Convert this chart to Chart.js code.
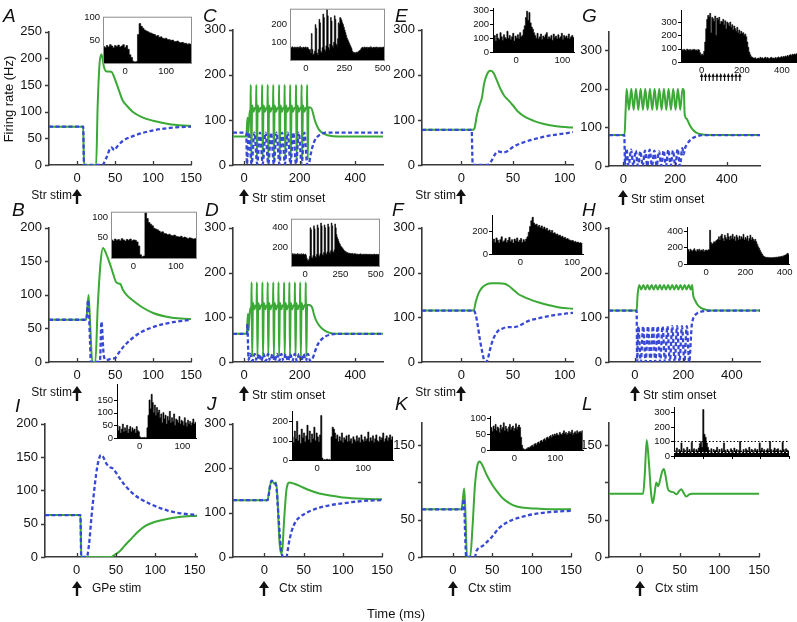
<!DOCTYPE html>
<html><head><meta charset="utf-8">
<script src="https://cdn.jsdelivr.net/npm/chart.js@4.4.0/dist/chart.umd.min.js"></script>
<style>
body{margin:0;background:#fff;width:797px;height:622px;overflow:hidden;position:relative}
canvas{position:absolute}
</style></head><body>
<script>
// ---------- data: model traces as [time ms, rate Hz] ----------
const A_green = [[-37,72],[8,72],[9,0],[25,0],[27,110],[29.5,190],[32,208],[35,186],[38,176],[45,175],[50,160],[55,140],[60,121],[65,112],[73,100],[85,90],[100,83],[120,77],[150,73]];
const A_blue  = [[-37,72],[8,72],[9,0],[33,0],[38,12],[45,33],[49,28],[53,35],[60,45],[75,55],[100,65],[125,70],[150,72]];
const B_green = [[-37,63],[12,63],[15,100],[17,60],[20,0],[24,0],[27,80],[31,150],[34,170],[38,162],[45,140],[52,118],[57,116],[60,108],[65,100],[73,92],[85,82],[100,73],[125,66],[150,64]];
const B_blue  = [[-37,63],[12,63],[14.5,92],[17,30],[18,0],[30,0],[32,60],[35,10],[38,3],[45,5],[50,6],[55,14],[62,24],[70,33],[85,45],[100,52],[115,57],[130,60],[150,63]];
const C_green = [[-40,63],[8,63],[11,95],[13,105],[15,70],[18,100],[21,120],
  [23,125],[24,178],[26,12],[29,132],[34,118],[39,127],[43,125],[44,178],[46,12],[49,132],[54,118],[59,127],
  [64,125],[65,178],[67,12],[70,132],[75,118],[80,127],[84,125],[85,178],[87,12],[90,132],[95,118],[100,127],
  [104,125],[105,178],[107,12],[110,132],[115,118],[120,127],[125,125],[126,178],[128,12],[131,132],[136,118],[141,127],
  [145,125],[146,178],[148,12],[151,132],[156,118],[161,127],[165,125],[166,178],[168,12],[171,132],[176,118],[181,127],
  [186,125],[187,178],[189,12],[192,132],[197,118],[202,127],[206,125],[207,178],[209,12],[212,132],[217,118],[222,127],
  [226,125],[227,178],[229,12],[232,128],[240,127],[245,122],[252,105],[260,90],[270,78],[285,70],[300,66],[340,63],[500,63]];
const C_blue  = [[-40,72],[8,72],[10,2],[17,72],[27,2],[37,72],[47,2],[57,72],[67,2],[77,72],[87,2],[97,72],[107,2],[117,72],[127,2],[137,72],[147,2],[157,72],[167,2],[177,72],[187,2],[197,72],[207,2],[217,72],[227,2],[232,0],[240,25],[250,48],[260,60],[275,68],[300,72],[500,72]];
const D_green = [[-40,63],[10,63],[12,90],[14,108],[16,70],[19,100],[23,120],
  [26,125],[27,178],[29,12],[32,132],[37,118],[42,127],[45,125],[46,178],[48,12],[51,132],[56,118],[61,127],
  [65,125],[66,178],[68,12],[71,132],[76,118],[81,127],[84,125],[85,178],[87,12],[90,132],[95,118],[100,127],
  [104,125],[105,178],[107,12],[110,132],[115,118],[120,127],[123,125],[124,178],[126,12],[129,132],[134,118],[139,127],
  [143,125],[144,178],[146,12],[149,132],[154,118],[159,127],[162,125],[163,178],[165,12],[168,132],[173,118],[178,127],
  [182,125],[183,178],[185,12],[188,132],[193,118],[198,127],[201,125],[202,178],[204,12],[207,132],[212,118],[217,127],
  [221,125],[222,178],[224,12],[227,128],[240,126],[246,120],[252,105],[260,92],[272,80],[290,70],[310,65],[340,63],[500,63]];
const D_blue  = [[-40,63],[10,63],[12,85],[14,40],[16,5],[22,18],[30,2],[38,18],[46,2],[54,18],[62,2],[70,18],[78,2],[86,18],[94,2],[102,18],[110,2],[118,18],[126,2],[134,18],[142,2],[150,18],[158,2],[166,18],[174,2],[182,18],[190,2],[198,18],[206,2],[214,18],[222,2],[230,18],[238,2],[248,10],[256,25],[266,40],[278,50],[292,57],[310,61],[330,63],[500,63]];
const E_green = [[-38,78],[10,78],[12.5,80],[15,110],[17,128],[20,150],[22,180],[25,202],[28,209],[31,205],[34,190],[38,168],[42,152],[45,145],[50,132],[55,118],[62,106],[70,98],[80,91],[92,86],[108,83]];
const E_blue  = [[-38,78],[10,78],[11,0],[25,0],[28,5],[33,25],[36,30],[40,28],[44,30],[50,40],[60,50],[70,57],[85,65],[100,70],[108,73]];
const F_green = [[-38,115],[12,115],[14,135],[17,155],[20,166],[24,173],[30,176],[36,176],[42,175],[46,170],[50,162],[55,152],[60,146],[65,141],[75,133],[85,127],[95,122],[108,119]];
const F_blue  = [[-38,115],[12,115],[14,105],[16,80],[18,50],[20,25],[22,5],[24,0],[26,10],[28,30],[31,52],[35,68],[40,75],[45,78],[50,78],[55,80],[60,86],[65,92],[75,98],[90,105],[108,110]];
const G_green = [[-55,80],[5,80],[9,140],[13,200],[22,145],[31,200],[40,145],[49,200],[58,145],[67,200],[76,145],[85,200],[94,145],[103,200],[112,145],[121,200],[130,145],[139,200],[148,145],[157,200],[166,145],[175,200],[184,145],[193,200],[202,145],[211,200],[220,145],[229,200],[234,195],[237,135],[245,122],[255,108],[266,96],[280,87],[300,82],[330,80],[528,80]];
const G_blue  = [[-55,80],[4,80],[7,0],[12,45],[21,0],[30,42],[39,0],[48,40],[57,0],[66,38],[75,0],[84,40],[93,0],[102,42],[111,0],[120,40],[129,0],[138,38],[147,0],[156,40],[165,0],[174,42],[183,0],[192,40],[201,0],[210,44],[219,0],[228,46],[233,30],[238,45],[248,58],[260,68],[280,76],[310,80],[528,80]];
const H_green = [[-107,115],[7,115],[11,150],[18,172],[26,162],[35,172],[43,162],[52,172],[60,162],[69,172],[77,162],[86,172],[94,162],[103,172],[111,162],[120,172],[128,162],[137,172],[145,162],[154,172],[162,162],[171,172],[179,162],[188,172],[196,162],[205,172],[213,162],[222,172],[230,162],[236,172],[240,150],[248,138],[258,128],[272,121],[292,117],[320,115],[516,115]];
const H_blue  = [[-107,115],[7,115],[9,0],[14,80],[24,0],[34,80],[44,0],[54,80],[64,0],[74,80],[84,0],[94,80],[104,0],[114,80],[124,0],[134,80],[144,0],[154,80],[164,0],[174,80],[184,0],[194,80],[204,0],[214,80],[224,0],[234,80],[237,90],[242,100],[255,108],[270,112],[290,114],[320,115],[516,115]];
const I_blue  = [[-40,63],[5,63],[6,0],[13,0],[16,20],[19,60],[22,95],[25,125],[28,145],[31,153],[34,150],[38,140],[42,135],[46,133],[50,127],[55,118],[62,107],[70,97],[80,88],[93,80],[105,74],[115,70],[130,66],[153,63]];
const I_green = [[-40,63],[5,63],[6,0],[44,0],[48,3],[52,6],[56,10],[62,18],[70,28],[78,38],[88,47],[100,53],[115,57],[130,60],[153,62]];
const J_green = [[-40,128],[4,128],[7,160],[10,170],[13,165],[15,168],[17,120],[19,40],[21,8],[23,20],[25,80],[28,150],[32,168],[38,165],[45,160],[55,152],[70,143],[85,138],[100,134],[125,131],[150,130]];
const J_blue  = [[-40,128],[4,128],[6,145],[9,172],[12,168],[15,160],[18,90],[21,20],[24,0],[28,0],[31,30],[35,60],[40,80],[45,90],[51,97],[60,105],[70,111],[85,117],[100,121],[125,126],[150,128]];
const K_green = [[-39,64],[11,64],[13,80],[14.5,92],[16,60],[18,0],[22,0],[25,40],[28,95],[31,122],[34,128],[38,122],[43,110],[50,97],[56,88],[64,78],[72,72],[80,68],[90,66],[105,65],[125,64],[150,64]];
const K_blue  = [[-39,64],[12,64],[14,78],[16,20],[17,0],[28,0],[30,8],[34,13],[38,15],[43,20],[48,25],[54,33],[60,40],[68,46],[76,50],[88,54],[100,57],[120,60],[150,62]];
const L_green = [[-39,85],[4,85],[6,110],[8.5,157],[11,130],[14,85],[16,72],[18,82],[20.5,100],[23,95],[25,102],[28,115],[30,118],[32,110],[35,92],[38,88],[42,87],[46,84],[49,88],[52,91],[55,86],[58,81],[62,84],[66,85],[150,85]];

// ---------- data: recorded histograms (counts per bin), bin = [first edge ms, width ms] ----------
const hA_bin = [-54, 4];
const hA = [36,34,38,35,40,37,33,38,36,39,35,37,40,34,38,30,18, 12,4,2,3, 62,86,80,76,72,70,68,66,65,63,62,59,60,56,57,54,53,54,51,51,49,50,47,47,48,45,44,45,43,43,41,42,41];
const hB_bin = [-53, 4];
const hB = [45,42,47,44,46,43,48,45,42,46,44,47,43,45,44,40,30, 8,3,5, 112,98,88,84,80,74,72,70,67,64,65,61,60,58,59,56,55,57,54,53,52,54,50,52,50,48,50,49,47,48,49];
const hC_bin = [-100, 5];
const hC = [72,68,75,70,66,73,71,69,74,67,72,70,76,68,71,65,73,70,69,74,66,72,70,62,55,60,
  40,150,60,30,35, 50,200,180,40,30, 60,230,210,50,40, 70,260,240,60,50, 80,285,250,70,60, 90,240,220,80,70, 100,250,230,90,80, 120,210,200,
  240,235,225,210,200,185,170,155,140,125,115,105,95,85,75,65,
  50,45,40,42,38,45,40,44,48,52,55,60,
  68,72,70,66,74,69,71,73,67,70,72,68,75,70,66,71,73,69,70,74,67,72,70,68,73,71,69,72,70,74,68];
const hD_bin = [-100, 5];
const hD = [125,118,130,122,115,128,120,124,117,130,121,126,119,123,128,116,122,127,120,118,125,110,80,60,55,70,
  100,400,380,90,80, 110,420,390,100,90, 120,430,400,110,100, 130,450,420,120,110, 140,430,400,130,120, 150,440,410,140,130, 160,450,420,150,140, 170,440,400,
  330,300,280,260,240,225,210,200,190,180,170,160,155,150,145,140,
  138,132,135,128,130,125,133,127,122,130,124,128,120,126,123,119,125,121,127,118,124,122,120,126,119,123,121,125,118,122,120,124,119,123,121,117,122,120,125,118,121,123,119,122,120,124];
const hE_bin = [-50, 2.5];
const hE = [95,120,80,130,100,90,140,110,85,125,105,95,150,100,120,90,110,135,80,115,100,125,95,140,110,120,
  160,190,250,295,230,285,210,180,165,140,
  120,100,135,95,110,130,90,115,105,125,140,95,110,100,120,85,130,105,115,95,125,100,110,135,90,120,105,115,100,130,95,110,120,105];
const hF_bin = [-55, 2.5];
const hF = [110,130,100,140,120,95,125,150,105,115,135,100,120,145,110,125,95,130,115,140,105,120,135,100,125,110,130,150,
  190,240,290,320,270,255,
  260,240,250,230,245,220,235,215,225,200,210,190,205,180,185,170,175,160,165,150,155,140,145,130,135,125,120,115,118,105,110,100,104,95,98,92];
const hG_bin = [-100, 5];
const hG = [92,88,95,90,85,97,91,89,94,87,92,90,96,88,91,85,93,90,70,50,
  60,50,80,150,250,320,
  350,340,365,220,335,325,305,345,200,330,315,335,285,305,
  300,320,280,310,250,300,290,270,300,260,280,240,270,250,230,260,220,240,210,230,215,220,200,210,190,150,
  110,75,55,40,35,30,28,32,22,26,
  30,25,35,28,32,24,30,36,27,33,29,25,31,35,28,30,26,34,29,32,38,30,35,40,33,42,38,45,40,48,44,50,55,48,58,52,60,56,62];
const G_stimTimes = [0,19,38,57,76,95,114,133,152,171,190];
const hH_bin = [-97, 5];
const hH = [160,175,150,180,165,155,170,185,160,150,175,165,180,155,170,160,175,150,165,170,160,170,175,
  410,260,240,250,270,260,280,290,
  300,330,290,340,360,310,280,350,320,300,370,330,290,340,310,360,300,330,280,350,320,290,340,300,330,310,360,290,320,300,340,280,310,350,290,320,300,280,
  300,270,240,210,190,165,140,120,100,90,
  85,78,82,75,80,72,78,74,80,76,82,78,85,80,88,84,90,95,92,100,105,110,120,130,115];
const hI_bin = [-53, 2.5];
const hI = [50,30,45,20,35,55,25,40,30,50,20,35,45,25,40,30,35,20,45,30,25,
  5,0,2,0,3,0,2,
  40,90,150,115,172,140,100,130,90,120,100,
  110,80,95,60,100,75,90,55,85,70,105,60,80,65,95,50,75,70,60,85,55,70,65,50,80,60,45,70,55,65,50,60,75,55,62];
const hJ_bin = [-55, 2.5];
const hJ = [120,90,150,110,200,100,130,85,160,115,140,95,125,180,105,150,90,135,110,170,100,140,120,95,130,230,
  10,0,2,0,5,0,3,0,
  120,170,160,140,
  110,130,95,120,100,140,90,115,105,125,95,130,100,110,85,120,105,95,125,100,115,90,130,105,95,120,100,110,145,95,115,100,125,90,110,130,100,95,120,105,115,140,95,110,125,100,115,130,105,120];
const hK_bin = [-60, 2.5];
const hK = [62,70,58,75,65,80,60,72,68,55,78,64,70,85,60,74,66,58,72,80,63,70,75,60,68,82,65,72,78,70,
  40,15,5,2,0,3,5,8,6,10,
  12,15,10,18,20,16,22,25,20,28,30,25,32,35,30,38,40,35,42,45,40,48,44,50,46,52,48,45,55,50,48,53,60,50,55,47,52,58,50,55,62,48,53,57,50,60,52,56,58,54,60];
const hL_bin = [-50, 2];
const hL = [40,30,55,25,45,35,90,30,50,40,25,60,35,45,30,95,40,50,30,45,35,55,85,100,60,
  320,150,130,90,60,
  40,30,50,25,45,35,40,60,30,45,25,50,35,90,40,30,45,35,25,50,40,30,55,35,45,30,40,100,35,25,45,30,50,40,35,60,30,45,40,25,50,35,45,30,90,40,55,35,45,30,40,50,35,100,45,30,40,55,35,45,50,30,40,35,95,45,30,50,40,35];
const L_levels = [100, 30];

// ---------- tick values ----------
const tx150 = [0, 50, 100, 150], tx500 = [0, 200, 400], tx100 = [0, 50, 100];
const ty250 = [0, 50, 100, 150, 200, 250], ty200 = [0, 50, 100, 150, 200], ty300 = [0, 100, 200, 300], tyKL = [0, 50, 100, 150];

const FF = '"Liberation Sans", Arial, Helvetica, sans-serif';
const GREEN = '#3aa935', BLUE = '#3747d6', AX = '#3a3a3a';
const LEVEL_COLORS = ['#000', '#fff'];

const pts = p => p.map(([x, y]) => ({x, y}));
const histPts = (h, bin) => {
  const out = h.map((v, i) => ({x: bin[0] + i * bin[1], y: v}));
  out.push({x: bin[0] + h.length * bin[1], y: h[h.length - 1]});
  return out;
};

function arrow(ctx, x, yTip, len, hw, hh, lw) {
  ctx.beginPath();
  ctx.moveTo(x, yTip + hh - 1); ctx.lineTo(x, yTip + len);
  ctx.lineWidth = lw; ctx.stroke();
  ctx.beginPath();
  ctx.moveTo(x, yTip); ctx.lineTo(x - hw, yTip + hh); ctx.lineTo(x + hw, yTip + hh); ctx.closePath();
  ctx.fill();
}

const marks = {
  id: 'marks',
  beforeDraw(c, a, o) {
    if (!o.bg) return;
    const r = c.chartArea;
    c.ctx.save(); c.ctx.fillStyle = '#fff'; c.ctx.fillRect(r.left, r.top, r.width, r.height); c.ctx.restore();
  },
  afterDraw(c, a, o) {
    const ctx = c.ctx, r = c.chartArea, x = c.scales.x, y = c.scales.y;
    ctx.save();
    ctx.strokeStyle = o.tc || AX; ctx.lineWidth = o.tw || 1.2;
    ctx.beginPath();
    x.ticks.forEach(t => {
      const p = Math.round(x.getPixelForValue(t.value)) + 0.5;
      if (o.xin) { ctx.moveTo(p, r.bottom); ctx.lineTo(p, r.bottom - o.xin); }
      if (o.xout) { ctx.moveTo(p, r.bottom); ctx.lineTo(p, r.bottom + o.xout); }
    });
    if (o.yout) y.ticks.forEach(t => {
      const p = Math.round(y.getPixelForValue(t.value)) + 0.5;
      ctx.moveTo(r.left, p); ctx.lineTo(r.left - o.yout, p);
    });
    ctx.stroke();
    if (o.box) { ctx.strokeStyle = o.box; ctx.lineWidth = 1; ctx.strokeRect(r.left + 0.5, r.top + 0.5, r.width - 1, r.height); }
    if (o.levels) {
      ctx.lineWidth = 1; ctx.setLineDash([1.5, 2]);
      o.levels.forEach((v, i) => {
        const p = Math.round(y.getPixelForValue(v)) + 0.5;
        ctx.strokeStyle = LEVEL_COLORS[i % LEVEL_COLORS.length];
        ctx.beginPath(); ctx.moveTo(r.left, p); ctx.lineTo(r.right, p); ctx.stroke();
      });
      ctx.setLineDash([]);
    }
    ctx.fillStyle = '#111'; ctx.strokeStyle = '#111';
    if (o.arrows) o.arrows.forEach(t => arrow(ctx, x.getPixelForValue(t), r.bottom + 11, 8, 1.8, 4, 1.2));
    if (o.stim) {
      const [txt, side] = o.stim, x0 = Math.round(x.getPixelForValue(0)), b = r.bottom;
      arrow(ctx, x0, b + 24, 15, 5, 7, 2.4);
      ctx.font = '12px ' + FF; ctx.textBaseline = 'alphabetic';
      if (side === 'L') { ctx.textAlign = 'right'; ctx.fillText(txt, x0 - 5, b + 34); }
      else if (side === 'R') { ctx.textAlign = 'left'; ctx.fillText(txt, x0 + 8, b + 37); }
      else { ctx.textAlign = 'left'; ctx.fillText(txt, x0 + 15, b + 35); }
    }
    ctx.restore();
  }
};

function place(box, pad) {
  const c = document.createElement('canvas');
  const w = box[2] - box[0] + pad[0] + pad[2], h = box[3] - box[1] + pad[1] + pad[3];
  c.width = w; c.height = h;
  c.style.left = (box[0] - pad[0]) + 'px'; c.style.top = (box[1] - pad[1]) + 'px';
  c.style.width = w + 'px'; c.style.height = h + 'px';
  document.body.appendChild(c);
  return c;
}

function scaleOpts(range, ticks, size, padding, border, fit, hide, noLabels) {
  return {
    type: 'linear', min: range[0], max: range[1], bounds: 'data',
    grid: {display: false, drawTicks: false},
    border: border,
    ticks: {font: {size: size, family: FF}, color: '#111', padding: padding, maxRotation: 0, autoSkip: false,
            callback: v => (noLabels || (hide && hide.includes(v))) ? '' : v},
    afterBuildTicks: s => { s.ticks = ticks.map(v => ({value: v})); },
    afterFit: fit
  };
}

function build(c, datasets, pad, xs, ys, markOpts) {
  return new Chart(c, {
    type: 'line',
    data: {datasets: datasets},
    options: {
      responsive: false, animation: false, devicePixelRatio: 1, events: [],
      layout: {padding: {top: pad[1], right: pad[2], left: 0, bottom: 0}},
      elements: {point: {radius: 0}},
      plugins: {legend: {display: false}, tooltip: {enabled: false}, marks: markOpts},
      scales: {x: xs, y: ys}
    },
    plugins: [marks]
  });
}

function mainChart(p) {
  const pad = [40, 10, 16, 52];
  const c = place(p.box, pad);
  const ds = [];
  if (p.blue) ds.push({data: pts(p.blue), borderColor: BLUE, borderWidth: 2.3, borderDash: [4, 2.5], cubicInterpolationMode: 'monotone', fill: false});
  if (p.green) ds.push({data: pts(p.green), borderColor: GREEN, borderWidth: 2, cubicInterpolationMode: 'monotone', fill: false});
  const bd = {display: true, color: AX, width: 1.6};
  build(c, ds, pad,
    scaleOpts(p.xr, p.xt, 13, 6, bd, s => { s.height = pad[3]; }),
    scaleOpts(p.yr, p.yt, 13, 7, bd, s => { s.width = pad[0]; }, p.hide),
    {xin: 4, yout: 4, stim: p.stim, tw: 1.3});
}

function insetChart(p) {
  const pad = [26, 5, 14, p.arrows ? 30 : 18];
  const c = place(p.box, pad);
  const ds = [{data: histPts(p.h, p.bin), stepped: true, fill: 'origin', backgroundColor: '#000', borderColor: '#000', borderWidth: 0.6}];
  const yb = p.boxed ? {display: false} : {display: true, color: '#000', width: 1};
  const xb = p.boxed ? {display: false} : {display: true, color: '#000', width: 1};
  build(c, ds, pad,
    scaleOpts(p.xr, p.xt, 9.5, 3, xb, s => { s.height = pad[3]; }, null, p.noX),
    scaleOpts(p.yr, p.yt, 9.5, p.boxed ? 3 : 4, yb, s => { s.width = pad[0]; }),
    {bg: true, box: p.boxed ? '#8f8f8f' : null, yout: p.boxed ? 0 : 3, xout: p.noX ? 3 : 0, tw: 1, tc: '#000',
     levels: p.levels, arrows: p.arrows});
}

// ---------- main panels ----------
mainChart({box: [49, 27, 192, 165],  xr: [-37, 150], yr: [0, 250], xt: tx150, yt: ty250, green: A_green, blue: A_blue, stim: ['Str stim', 'L']});
mainChart({box: [49, 223, 192, 362], xr: [-37, 150], yr: [0, 200], xt: tx150, yt: ty200, green: B_green, blue: B_blue, stim: ['Str stim', 'L']});
mainChart({box: [45, 419, 197, 557], xr: [-40, 153], yr: [0, 200], xt: tx150, yt: ty200, green: I_green, blue: I_blue, stim: ['GPe stim', 'R3']});
mainChart({box: [233, 25, 383, 165], xr: [-40, 500], yr: [0, 300], xt: tx500, yt: ty300, green: C_green, blue: C_blue, stim: ['Str stim onset', 'R']});
mainChart({box: [233, 223, 383, 362], xr: [-40, 500], yr: [0, 300], xt: tx500, yt: ty300, green: D_green, blue: D_blue, stim: ['Str stim onset', 'R']});
mainChart({box: [233, 419, 383, 557], xr: [-40, 150], yr: [0, 300], xt: tx150, yt: ty300, green: J_green, blue: J_blue, stim: ['Ctx stim', 'R3']});
mainChart({box: [422, 25, 573, 165], xr: [-38, 108], yr: [0, 300], xt: tx100, yt: ty300, green: E_green, blue: E_blue, stim: ['Str stim', 'L']});
mainChart({box: [422, 223, 573, 362], xr: [-38, 108], yr: [0, 300], xt: tx100, yt: ty300, green: F_green, blue: F_blue, stim: ['Str stim', 'L']});
mainChart({box: [422, 418, 572, 557], xr: [-39, 150], yr: [0, 180], xt: tx150, yt: tyKL, hide: [100], green: K_green, blue: K_blue, stim: ['Ctx stim', 'R3']});
mainChart({box: [609, 27, 760, 166], xr: [-55, 528], yr: [0, 347], xt: tx500, yt: ty300, green: G_green, blue: G_blue, stim: ['Str stim onset', 'R']});
mainChart({box: [609, 223, 760, 362], xr: [-107, 516], yr: [0, 300], xt: tx500, yt: ty300, green: H_green, blue: H_blue, stim: ['Str stim onset', 'R']});
mainChart({box: [609, 418, 760, 557], xr: [-39, 150], yr: [0, 180], xt: tx150, yt: tyKL, hide: [100], green: L_green, stim: ['Ctx stim', 'R3']});

// ---------- insets ----------
insetChart({box: [103, 13, 192, 63],  xr: [-54, 163], yr: [0, 101], xt: [0, 100], yt: [50, 100], h: hA, bin: hA_bin, boxed: true});
insetChart({box: [111, 208, 197, 258], xr: [-53, 150], yr: [0, 115], xt: [0, 100], yt: [50, 100], h: hB, bin: hB_bin, boxed: true});
insetChart({box: [290, 5, 385, 60],   xr: [-104, 515], yr: [0, 290], xt: [0, 250, 500], yt: [100, 200], h: hC, bin: hC_bin, boxed: true});
insetChart({box: [291, 215, 380, 266], xr: [-100, 530], yr: [0, 495], xt: [0, 250, 500], yt: [200, 400], h: hD, bin: hD_bin, boxed: true});
insetChart({box: [493, 4, 574, 52],   xr: [-50, 125], yr: [0, 313], xt: [0, 100], yt: [0, 100, 200, 300], h: hE, bin: hE_bin});
insetChart({box: [492, 211, 583, 254], xr: [-55, 121], yr: [0, 334], xt: [0, 100], yt: [0, 200], h: hF, bin: hF_bin});
insetChart({box: [681, 6, 797, 62],   xr: [-103, 475], yr: [0, 385], xt: [0, 200, 400], yt: [0, 100, 200, 300], h: hG, bin: hG_bin, arrows: G_stimTimes});
insetChart({box: [687, 223, 789, 264], xr: [-97, 422], yr: [0, 440], xt: [0, 200, 400], yt: [0, 200, 400], h: hH, bin: hH_bin});
insetChart({box: [117, 380, 196, 438], xr: [-53, 132], yr: [0, 210], xt: [0, 100], yt: [0, 50, 100, 150], h: hI, bin: hI_bin});
insetChart({box: [292, 407, 393, 460], xr: [-55, 165], yr: [0, 250], xt: [0, 100], yt: [0, 100, 200], h: hJ, bin: hJ_bin});
insetChart({box: [490, 412, 583, 450], xr: [-60, 168], yr: [0, 104], xt: [0, 100], yt: [0, 50, 100], h: hK, bin: hK_bin});
insetChart({box: [674, 403, 789, 456], xr: [-50, 150], yr: [0, 333], xt: [-50, 0, 50, 100, 150], yt: [0, 100, 200, 300], h: hL, bin: hL_bin, noX: true, levels: L_levels});

// ---------- panel letters and axis titles ----------
const ov = document.createElement('canvas');
ov.width = 797; ov.height = 622; ov.style.left = '0px'; ov.style.top = '0px';
document.body.appendChild(ov);
const g = ov.getContext('2d');
g.fillStyle = '#111';
g.font = 'italic 19px ' + FF;
[['A', 3, 22], ['C', 203, 22], ['E', 395, 22], ['G', 582, 22],
 ['B', 12, 216], ['D', 205, 216], ['F', 392, 216], ['H', 582, 216],
 ['I', 15, 412], ['J', 207, 410], ['K', 395, 410], ['L', 582, 410]].forEach(([s, x, y]) => g.fillText(s, x, y));
g.font = '13px ' + FF;
g.textAlign = 'center';
g.fillText('Time (ms)', 396, 618);
g.save(); g.translate(13, 99); g.rotate(-Math.PI / 2); g.fillText('Firing rate (Hz)', 0, 0); g.restore();
</script>
</body></html>
